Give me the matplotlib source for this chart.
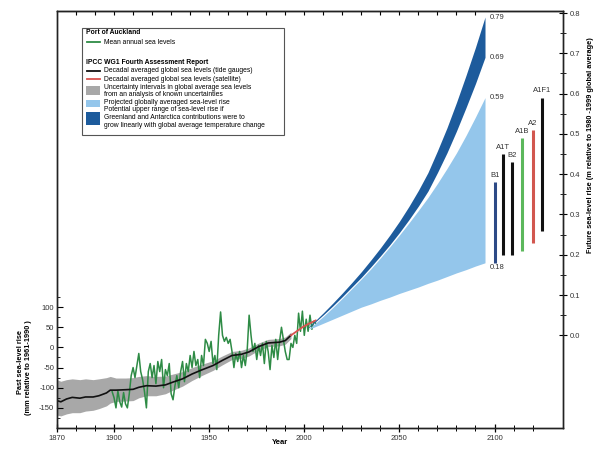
import matplotlib
matplotlib.use("Agg")
import matplotlib.pyplot as plt
from matplotlib.patches import Rectangle
from matplotlib.lines import Line2D

plt.rcParams['font.family'] = ['Liberation Sans', 'DejaVu Sans']
plt.rcParams['axes.unicode_minus'] = False

# ---------------- data ----------------
# decadal averaged global sea level (tide gauges), mm rel. 1961-1990
tg_years = [1870, 1872, 1875, 1878, 1882, 1885, 1889, 1892, 1896, 1898, 1901, 1906,
            1910, 1913, 1917, 1922, 1927, 1931, 1936, 1941, 1946, 1952, 1957, 1962,
            1967, 1971, 1976, 1981, 1987, 1990, 1993]
tg_mm = [-132, -135, -128, -124, -126, -123, -123, -120, -113, -106, -106, -105,
         -104, -99, -95, -96, -93, -86, -78, -66, -56, -45, -32, -20,
         -17, -11, 2, 11, 13, 17, 30]
unc_upper = [-80, -84, -80, -78, -80, -78, -80, -78, -75, -72, -76, -76,
             -75, -72, -70, -72, -71, -66, -60, -50, -42, -33, -21, -10,
             -7, -1, 11, 20, 22, 26, 38]
unc_lower = [-168, -170, -165, -162, -162, -158, -156, -152, -145, -138, -134, -133,
             -132, -125, -120, -120, -115, -106, -96, -82, -70, -57, -43, -30,
             -27, -21, -7, 2, 4, 8, 22]

# satellite
sat_years = [1993, 1996, 1999, 2002, 2006]
sat_mm = [30, 40, 50, 58, 67]

# Port of Auckland mean annual sea level, mm
akl_years = list(range(1899, 2007))
akl_mm = [-110, -125, -150, -108, -135, -148, -112, -140, -150, -115,
          -70, -50, -75, -45, -15, -60, -80, -110, -150, -60,
          -40, -75, -45, -90, -35, -60, -30, -100, -55, -70,
          -40, -115, -130, -95, -70, -100, -60, -35, -85, -40,
          -60, -20, -50, -10, -45, -30, -75, -20, -45, 20,
          10, -10, 15, -40, -20, -55, 30, 88, 30, 15,
          25, 10, 20, -10, -50, -15, -35, -10, -50, -20,
          -45, -5, 80, 30, -10, 10, -30, 5, -20, 10,
          -40, 15, -10, -55, 5, -25, 20, -30, 15, 50,
          20, -10, -30, -30, 10, 0, 30, 10, 85, 40,
          90, 30, 70, 40, 80, 45, 65, 60]

# projections, m rel. 1980-1999
proj_years = [2002, 2005, 2010, 2015, 2020, 2025, 2030, 2035, 2040, 2045,
              2050, 2055, 2060, 2065, 2070, 2075, 2080, 2085, 2090, 2095]
proj_low = [0.015, 0.02, 0.03, 0.04, 0.05, 0.06, 0.07, 0.078, 0.087, 0.095,
            0.104, 0.112, 0.12, 0.129, 0.137, 0.146, 0.155, 0.163, 0.172, 0.18]
proj_high = [0.015, 0.027, 0.047, 0.069, 0.092, 0.116, 0.14, 0.165, 0.192, 0.22,
             0.249, 0.279, 0.31, 0.342, 0.377, 0.414, 0.453, 0.496, 0.542, 0.59]
upper_low = [0.018, 0.030, 0.051, 0.073, 0.096, 0.120, 0.144, 0.170, 0.197, 0.225,
             0.255, 0.287, 0.321, 0.358, 0.404, 0.453, 0.507, 0.565, 0.625, 0.69]
upper_high = [0.02, 0.033, 0.056, 0.08, 0.105, 0.131, 0.158, 0.187, 0.217, 0.249,
              0.283, 0.32, 0.36, 0.404, 0.458, 0.515, 0.578, 0.645, 0.715, 0.79]
end_labels = ["0.79", "0.69", "0.59", "0.18"]
end_values = [0.79, 0.69, 0.59, 0.18]

# SRES scenario ranges at 2090-2099
scenarios = ["B1", "A1T", "B2", "A1B", "A2", "A1F1"]
scen_x = [2100.5, 2104.5, 2109, 2114.5, 2120, 2125]
scen_low = [0.18, 0.20, 0.20, 0.21, 0.23, 0.26]
scen_high = [0.38, 0.45, 0.43, 0.49, 0.51, 0.59]
scen_colors = ["#2d4a86", "#111111", "#111111", "#5cb85c", "#d2574f", "#111111"]

# ---------------- styling ----------------
GREEN = "#2e8b45"
GREY = "#a8a8a8"
LIGHT = "#94c6eb"
DARK = "#1d5b9c"
RED = "#d9534f"
TXT = "#333333"

fig = plt.figure(figsize=(6.02, 4.5), dpi=100)
ax = fig.add_axes([57/602, 1-428/450, 506/602, 417/450])
ax.set_xlim(1870, 2136)
ax.set_ylim(-200, 835)

ax.fill_between(tg_years, unc_lower, unc_upper, color=GREY, lw=0, zorder=1)
ax.plot(akl_years, akl_mm, color=GREEN, lw=1.1, zorder=3)
ax.plot(tg_years, tg_mm, color="#111111", lw=1.2, zorder=4)
ax.plot(sat_years, sat_mm, color=RED, lw=1.3, zorder=4)

ax2 = ax.twinx()
ax2.set_ylim((-200 - 30) / 1000, (835 - 30) / 1000)
ax2.fill_between(proj_years, proj_low, proj_high, color=LIGHT, lw=0, zorder=1)
ax2.fill_between(proj_years, upper_low, upper_high, color=DARK, lw=0, zorder=2)
for lab, v in zip(end_labels, end_values):
    off = -0.012 if lab == "0.18" else 0.0
    ax2.text(2097.3, v + off, lab, fontsize=5.5, color=TXT, va='center', ha='left')
ax2.vlines(scen_x, scen_low, scen_high, colors=scen_colors, lw=2.2, zorder=3)
for lab, x, h in zip(scenarios, scen_x, scen_high):
    ax2.text(x, h + 0.008, lab, fontsize=5.5, color=TXT, ha='center', va='bottom')

# ticks - left
ax.set_yticks([-150, -100, -50, 0, 50, 100])
ax.set_yticks(list(range(-175, 150, 25)), minor=True)
ax.tick_params(axis='y', which='major', direction='in', length=4, width=0.8,
               labelsize=5.5, labelcolor=TXT, pad=2)
ax.tick_params(axis='y', which='minor', direction='in', length=2, width=0.6)
# ticks - bottom
ax.set_xticks([1870, 1900, 1950, 2000, 2050, 2100])
ax.set_xticks(list(range(1880, 2130, 10)), minor=True)
ax.tick_params(axis='x', which='major', direction='inout', length=6, width=0.9,
               labelsize=5.5, labelcolor=TXT, pad=2)
ax.tick_params(axis='x', which='minor', direction='inout', length=4, width=0.7)
# ticks - top
top = ax.secondary_xaxis('top')
top.set_xticks(list(range(1880, 2100, 10)))
top.tick_params(direction='in', length=3, width=0.8, labeltop=False)
# ticks - right
ax2.set_yticks([0.0, 0.1, 0.2, 0.3, 0.4, 0.5, 0.6, 0.7, 0.8])
ax2.set_yticklabels(["0.0", "0.1", "0.2", "0.3", "0.4", "0.5", "0.6", "0.7", "0.8"])
ax2.set_yticks([0.05, 0.15, 0.25, 0.35, 0.45, 0.55, 0.65, 0.75], minor=True)
ax2.tick_params(axis='y', which='major', direction='inout', length=6, width=0.8,
                labelsize=5.5, labelcolor=TXT, pad=2)
ax2.tick_params(axis='y', which='minor', direction='inout', length=4, width=0.6)

for a in (ax, ax2):
    for s in a.spines.values():
        s.set_linewidth(1.0)
        s.set_color("#222222")

# axis labels
fig.text(280/602, 1-443/450, "Year", fontsize=5.5, fontweight='bold', ha='center', va='center')
fig.text(20/602, 1-362/450, "Past sea-level rise", fontsize=5.3, fontweight='bold',
         rotation=90, ha='center', va='center')
fig.text(28.5/602, 1-368/450, "(mm relative to 1961-1990 )", fontsize=5.3, fontweight='bold',
         rotation=90, ha='center', va='center')
fig.text(590/602, 1-145/450, "Future sea-level rise (m relative to 1980 -1999 global average)",
         fontsize=5.3, fontweight='bold', rotation=90, ha='center', va='center')

# legend (manual)
def fx(px):
    return (px - 57) / 506

def fy(py):
    return (428 - py) / 417

T = ax.transAxes
ax.add_patch(Rectangle((fx(82), fy(135)), fx(284) - fx(82), fy(28) - fy(135),
                       transform=T, fill=True, fc='white', ec='#555555', lw=0.8, zorder=10))
fs = 4.9
ax.text(fx(86), fy(33), "Port of Auckland", transform=T, fontsize=fs, fontweight='bold',
        va='center', zorder=11)
ax.add_line(Line2D([fx(87), fx(100)], [fy(42.3)] * 2, transform=T, color=GREEN, lw=1.3, zorder=11))
ax.text(fx(104), fy(42.3), "Mean annual sea levels", transform=T, fontsize=fs, va='center', zorder=11)
ax.text(fx(86), fy(62.3), "IPCC WG1 Fourth Assessment Report", transform=T, fontsize=fs,
        fontweight='bold', va='center', zorder=11)
ax.add_line(Line2D([fx(87), fx(100)], [fy(71)] * 2, transform=T, color='#111111', lw=1.3, zorder=11))
ax.text(fx(104), fy(71), "Decadal averaged global sea levels (tide gauges)", transform=T,
        fontsize=fs, va='center', zorder=11)
ax.add_line(Line2D([fx(87), fx(100)], [fy(79.3)] * 2, transform=T, color=RED, lw=1.3, zorder=11))
ax.text(fx(104), fy(79.3), "Decadal averaged global sea levels (satellite)", transform=T,
        fontsize=fs, va='center', zorder=11)
ax.add_patch(Rectangle((fx(86), fy(95)), fx(100) - fx(86), fy(86) - fy(95), transform=T,
                       fc=GREY, ec='none', zorder=11))
ax.text(fx(104), fy(87.7), "Uncertainty intervals in global average sea levels", transform=T,
        fontsize=fs, va='center', zorder=11)
ax.text(fx(104), fy(94.3), "from an analysis of known uncertainties", transform=T,
        fontsize=fs, va='center', zorder=11)
ax.add_patch(Rectangle((fx(86), fy(107)), fx(100) - fx(86), fy(100) - fy(107), transform=T,
                       fc=LIGHT, ec='none', zorder=11))
ax.text(fx(104), fy(102.7), "Projected globally averaged sea-level rise", transform=T,
        fontsize=fs, va='center', zorder=11)
ax.add_patch(Rectangle((fx(86), fy(125)), fx(100) - fx(86), fy(112) - fy(125), transform=T,
                       fc=DARK, ec='none', zorder=11))
ax.text(fx(104), fy(109.5), "Potential upper range of sea-level rise if", transform=T,
        fontsize=fs, va='center', zorder=11)
ax.text(fx(104), fy(117.5), "Greenland and Antarctica contributions were to", transform=T,
        fontsize=fs, va='center', zorder=11)
ax.text(fx(104), fy(125.5), "grow linearly with global average temperature change", transform=T,
        fontsize=fs, va='center', zorder=11)

fig.savefig("out.png", dpi=100)
